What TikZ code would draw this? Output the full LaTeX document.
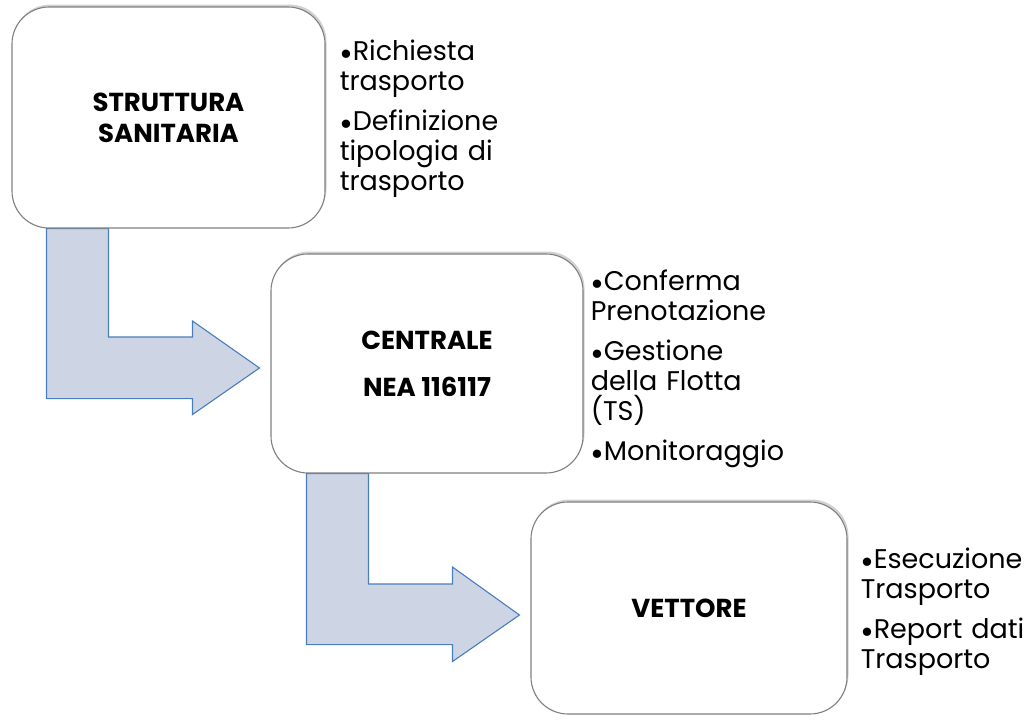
\documentclass[tikz,border=0pt]{standalone}
\usepackage{fontspec}
\setmainfont{Poppins}
\usetikzlibrary{shadows,calc}
\pgfdeclarelayer{bg}
\pgfsetlayers{bg,main}
\definecolor{arrowfill}{HTML}{CDD5E5}
\definecolor{arrowline}{HTML}{4A7EBB}
\definecolor{boxline}{HTML}{808080}
\newcommand\itm[1]{\par\noindent\hangindent=8pt\hangafter=1\makebox[13pt][l]{\raisebox{-4.5pt}{\scalebox{1.25}{•}}}#1}
\newcommand\gap{\par\vskip 10pt}
\tikzset{
  box/.style={draw=boxline, line width=1.1pt, fill=white, rounded corners=37pt,
    inner sep=0pt, align=center, font=\fontsize{26}{31}\selectfont\bfseries,
    drop shadow={shadow xshift=1.5pt, shadow yshift=2.5pt, opacity=0.3, fill=black!60}},
  blist/.style={anchor=north west, text width=200pt, inner sep=0pt,
    font=\fontsize{27}{30}\selectfont, align=left},
  bentarrow/.style={fill=arrowfill, draw=arrowline, line width=1.1pt, line join=miter}
}
\begin{document}
\begin{tikzpicture}[x=1pt,y=-1pt]
\useasboundingbox (0,0) rectangle (1034,720);
\node[box, minimum width=313pt, minimum height=221pt] (b1) at (168.5,117.5) {STRUTTURA\\SANITARIA};
\node[box, minimum width=312pt, minimum height=219pt, font=\fontsize{26}{47}\selectfont\bfseries] (b2) at (427,363.5) {CENTRALE\\NEA 116117};
\node[box, minimum width=316pt, minimum height=212pt] (b3) at (689,608) {VETTORE};
\node[blist] (l1) at ($(b1.north east)+(14,24)$) {\itm{\rule{0pt}{22pt}Richiesta\\trasporto}\gap\itm{Definizione\\tipologia di\\trasporto}};
\node[blist] (l2) at ($(b2.north east)+(7,7)$) {\itm{\rule{0pt}{22pt}Conferma\\Prenotazione}\gap\itm{Gestione\\della Flotta\\(TS)}\gap\itm{Monitoraggio}};
\node[blist] (l3) at ($(b3.north east)+(13,37)$) {\itm{\rule{0pt}{22pt}Esecuzione\\Trasporto}\gap\itm{Report dati\\Trasporto}};
\begin{pgfonlayer}{bg}
\draw[bentarrow] ($(b1.south west)+(35,0)$) -- ++(0,170) -- ++(146,0) -- ++(0,16)
  -- ($(b2.west)+(-11,4.5)$) -- ++(-67,-47) -- ++(0,16) -- ++(-84,0) -- ($(b1.south west)+(97,0)$) -- cycle;
\draw[bentarrow] ($(b2.south west)+(36,0)$) -- ++(0,171) -- ++(146,0) -- ++(0,17)
  -- ($(b3.west)+(-11,7)$) -- ++(-67,-48) -- ++(0,17) -- ++(-84,0) -- ($(b2.south west)+(98,0)$) -- cycle;
\end{pgfonlayer}
\end{tikzpicture}
\end{document}
